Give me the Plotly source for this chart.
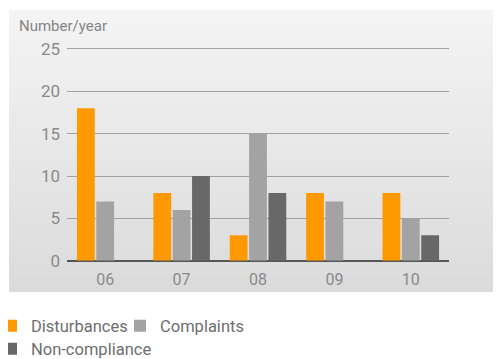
import plotly.graph_objects as go

years = ["06", "07", "08", "09", "10"]
disturbances = [18, 8, 3, 8, 8]
complaints = [7, 6, 15, 7, 5]
non_compliance = [0, 10, 8, 0, 3]
y_ticks = [0, 5, 10, 15, 20, 25]

# page body has an 8px margin, so the figure is offset by 8px
OFF = 8
W, H = 501 - OFF, 359 - OFF
MB = 59                      # bottom margin (legend lives below the plot area)
PH = H - MB                  # paper-area height in px
FONT = "Roboto, Arial"

Y0_PX, Y25_PX = 260.7, 49.0
YMAX = 25.2
YTOP_PX = Y0_PX - (Y0_PX - Y25_PX) * YMAX / 25

def px(sx):
    return (sx - OFF) / W

def py(sy):
    return (PH - (sy - OFF)) / PH

fig = go.Figure()
fig.add_trace(go.Bar(x=years, y=disturbances, name="Disturbances",
                     marker=dict(color="#FF9900", line=dict(width=0)), legend="legend"))
fig.add_trace(go.Bar(x=years, y=complaints, name="Complaints",
                     marker=dict(color="#A3A3A3", line=dict(width=0)), legend="legend"))
fig.add_trace(go.Bar(x=years, y=non_compliance, name="Non-compliance",
                     marker=dict(color="#686868", line=dict(width=0)), legend="legend2"))

# gradient background panel (bands)
shapes = []
top, bot = 10, 292
n = 30
c0, c1 = 0xF4, 0xDB
for i in range(n):
    y0 = top + (bot - top) * i / n
    y1 = min(top + (bot - top) * (i + 1) / n + 0.5, bot)
    c = round(c0 + (c1 - c0) * (i + 0.5) / n)
    shapes.append(dict(type="rect", xref="paper", yref="paper",
                       x0=px(9), x1=px(520), y0=py(y1), y1=py(y0),
                       fillcolor=f"rgb({c},{c},{c})", line=dict(width=0),
                       layer="below"))

fig.update_layout(
    width=W, height=H,
    margin=dict(l=0, r=0, t=0, b=MB, autoexpand=False),
    paper_bgcolor="white",
    plot_bgcolor="rgba(0,0,0,0)",
    barmode="group",
    bargap=0.24,
    bargroupgap=0.08,
    shapes=shapes,
    font=dict(family=FONT, color="#888888"),
    xaxis=dict(domain=[px(67), px(449)], range=[-0.5, 4.5], showgrid=False,
               showline=False, ticks="", ticklabelstandoff=7,
               tickfont=dict(size=16, color="#8a8a8a"),
               automargin=False, fixedrange=True),
    yaxis=dict(domain=[py(Y0_PX), py(YTOP_PX)], range=[0, YMAX], tickvals=y_ticks,
               showgrid=True, gridcolor="#a2a2a2", gridwidth=1,
               zeroline=True, zerolinecolor="#555555", zerolinewidth=2,
               showline=False, ticks="", ticklabelstandoff=6,
               tickfont=dict(size=17, color="#8a8a8a"), automargin=False,
               fixedrange=True),
    showlegend=True,
    legend=dict(orientation="h", x=px(-9), xanchor="left", y=py(326), yanchor="middle",
                font=dict(size=16.5, color="#6e6e6e"), bgcolor="rgba(0,0,0,0)",
                itemwidth=30, entrywidth=84, traceorder="normal"),
    legend2=dict(orientation="h", x=px(-9), xanchor="left", y=py(349), yanchor="middle",
                 font=dict(size=16.5, color="#6e6e6e"), bgcolor="rgba(0,0,0,0)",
                 itemwidth=30),
    annotations=[dict(text="Number/year", xref="paper", yref="paper",
                      x=px(17), y=py(26), xanchor="left", yanchor="middle",
                      showarrow=False, font=dict(size=15, color="#858585"))],
)

fig.write_html("out.html")
